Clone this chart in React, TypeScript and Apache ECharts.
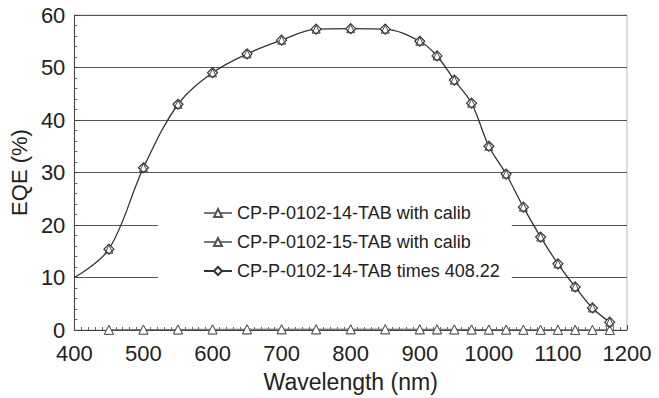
import React, { useEffect, useRef } from "react";
import * as echarts from "echarts";

const wavelengths = [400, 450, 500, 550, 600, 650, 700, 750, 800, 850, 900, 925, 950, 975, 1000, 1025, 1050, 1075, 1100, 1125, 1150, 1175];
const eqeScaled = [10, 15.4, 30.9, 43.0, 49.0, 52.6, 55.2, 57.3, 57.4, 57.3, 55.0, 52.2, 47.6, 43.2, 35.0, 29.7, 23.4, 17.7, 12.6, 8.2, 4.2, 1.5];

const calibWavelengths = [450, 500, 550, 600, 650, 700, 750, 800, 850, 900, 925, 950, 975, 1000, 1025, 1050, 1075, 1100, 1125, 1150, 1175];
const eqe14 = [0.04, 0.08, 0.11, 0.12, 0.13, 0.14, 0.14, 0.14, 0.14, 0.13, 0.13, 0.12, 0.11, 0.09, 0.07, 0.06, 0.04, 0.03, 0.02, 0.01, 0.004];
const eqe15 = [0.03, 0.07, 0.10, 0.11, 0.12, 0.13, 0.13, 0.13, 0.13, 0.13, 0.12, 0.11, 0.10, 0.08, 0.07, 0.05, 0.04, 0.03, 0.02, 0.01, 0.004];

const seriesNames = [
  "CP-P-0102-14-TAB with calib",
  "CP-P-0102-15-TAB with calib",
  "CP-P-0102-14-TAB times 408.22",
];

const FONT = "Liberation Sans, Arial, Helvetica, sans-serif";

export default function App() {
  const ref = useRef<HTMLDivElement>(null);
  useEffect(() => {
    if (!ref.current) return;
    const chart = echarts.init(ref.current, undefined, { renderer: "svg" });
    const pairs = (xs: number[], ys: number[]) => xs.map((x, i) => [x, ys[i]]);
    const scaledData = wavelengths.map((x, i) =>
      x === 400 ? { value: [x, eqeScaled[i]], symbol: "none" } : [x, eqeScaled[i]]
    );
    chart.setOption({
      animation: false,
      backgroundColor: "#fff",
      textStyle: { fontFamily: FONT },
      grid: {
        left: 72,
        right: 32,
        top: 15,
        bottom: 68,
        show: true,
        borderColor: "#b8b8b8",
        borderWidth: 1,
        backgroundColor: "transparent",
      },
      legend: {
        orient: "vertical",
        left: 158,
        top: 192,
        backgroundColor: "#fff",
        padding: [12, 12, 10, 45],
        itemGap: 11,
        itemWidth: 28,
        itemHeight: 10,
        textStyle: { fontSize: 18, color: "#222", fontFamily: FONT },
        data: seriesNames,
      },
      xAxis: {
        type: "value",
        min: 400,
        max: 1200,
        interval: 100,
        name: "Wavelength (nm)",
        nameLocation: "middle",
        nameGap: 40,
        nameTextStyle: { fontSize: 23, color: "#222", fontFamily: FONT },
        axisLine: { show: true, lineStyle: { color: "#444", width: 1 } },
        axisTick: { show: true, inside: true, length: 5, lineStyle: { color: "#444" } },
        minorTick: { show: true, splitNumber: 10, length: 3, lineStyle: { color: "#666" } },
        axisLabel: {
          fontSize: 22,
          color: "#222",
          margin: 12,
          fontFamily: FONT,
          formatter: (v: number) => String(v),
        },
        splitLine: { show: false },
      },
      yAxis: {
        type: "value",
        min: 0,
        max: 60,
        interval: 10,
        name: "EQE (%)",
        nameLocation: "middle",
        nameGap: 40,
        nameTextStyle: { fontSize: 22, color: "#222", fontFamily: FONT },
        axisLine: { show: true, lineStyle: { color: "#444", width: 1 } },
        axisTick: { show: true, inside: true, length: 5, lineStyle: { color: "#444" } },
        minorTick: { show: true, splitNumber: 5, length: 3, lineStyle: { color: "#666" } },
        axisLabel: { fontSize: 22, color: "#222", margin: 9, fontFamily: FONT },
        splitLine: { show: true, lineStyle: { color: "#555", width: 1 } },
      },
      series: [
        {
          name: seriesNames[0],
          type: "line",
          data: pairs(calibWavelengths, eqe14),
          symbol: "triangle",
          symbolSize: 9,
          itemStyle: { color: "#fff", borderColor: "#555", borderWidth: 1 },
          lineStyle: { color: "#777", width: 1 },
          z: 5,
        },
        {
          name: seriesNames[1],
          type: "line",
          data: pairs(calibWavelengths, eqe15),
          symbol: "triangle",
          symbolSize: 9,
          itemStyle: { color: "#fff", borderColor: "#555", borderWidth: 1 },
          lineStyle: { color: "#777", width: 1 },
          z: 5,
        },
        {
          name: seriesNames[2],
          type: "line",
          data: scaledData,
          smooth: 0.35,
          symbol: "diamond",
          symbolSize: 10,
          itemStyle: { color: "#fff", borderColor: "#333", borderWidth: 1.2 },
          lineStyle: { color: "#333", width: 1.3 },
          z: 6,
        },
        {
          name: "overlay",
          type: "line",
          data: pairs(wavelengths.slice(1), eqeScaled.slice(1)),
          symbol: "triangle",
          symbolSize: 8,
          showSymbol: true,
          itemStyle: { color: "transparent", borderColor: "#444", borderWidth: 1 },
          lineStyle: { width: 0, opacity: 0 },
          z: 7,
          silent: true,
        },
      ],
    });
    return () => chart.dispose();
  }, []);
  return <div ref={ref} style={{ width: 659, height: 398, position: "absolute", left: 0, top: 0 }} />;
}
